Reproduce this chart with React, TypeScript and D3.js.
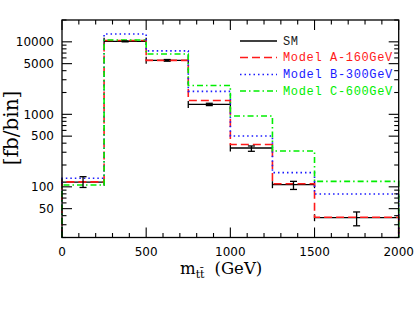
import * as d3 from 'd3';

// bin edges of the m_tt histogram (GeV)
const binEdges = [0, 250, 500, 750, 1000, 1250, 1500, 2000];

// SM with error bars
const smValues = [116, 10150, 5550, 1370, 343, 107, 37.5];
const smErrLow = [98, 10000, 5400, 1320, 309, 92, 29];
const smErrHigh = [138, 10300, 5700, 1420, 366, 119, 45];

// new-physics models
const modelA = [117, 10450, 5550, 1550, 383, 110, 38];
const modelB = [131, 12800, 7500, 2070, 503, 157, 79.5];
const modelC = [106, 10600, 6800, 2500, 950, 312, 119];

const xMajor = [0, 500, 1000, 1500, 2000];
const yLabelled = [50, 100, 500, 1000, 5000, 10000];

const series = [
  { name: 'Model A-160GeV', values: modelA, color: '#ff1a1a', dash: '8,4' },
  { name: 'Model B-300GeV', values: modelB, color: '#1a1aff', dash: '1.5,3' },
  { name: 'Model C-600GeV', values: modelC, color: '#00ee00', dash: '6,3,1.5,3' },
];

const W = 415;
const H = 314;
const left = 62;
const right = 398.7;
const top = 20;
const bottom = 237.5;

export default function App() {
  const x = d3.scaleLinear().domain([0, 2000]).range([left, right]);
  const y = d3.scaleLog().domain([20, 20000]).range([bottom, top]);

  const xMinor = d3.range(0, 2001, 100).filter(v => v % 500 !== 0);
  const yMinor: number[] = [];
  [10, 100, 1000, 10000].forEach(dec => {
    for (let k = 1; k <= 9; k++) {
      const v = dec * k;
      if (v < 20 || v > 20000) continue;
      if (yLabelled.includes(v)) continue;
      yMinor.push(v);
    }
  });

  const line = d3.line<[number, number]>().x(d => x(d[0])).y(d => y(d[1]));

  const stepPoints = (vals: number[]): [number, number][] => {
    const pts: [number, number][] = [[binEdges[0], 20]];
    vals.forEach((v, i) => {
      pts.push([binEdges[i], v]);
      pts.push([binEdges[i + 1], v]);
    });
    pts.push([binEdges[binEdges.length - 1], 20]);
    return pts;
  };

  const legendRows = [
    { name: 'SM', color: '#000', dash: undefined as string | undefined, text: '#222' },
    ...series.map(s => ({ name: s.name, color: s.color, dash: s.dash, text: s.color })),
  ];
  const legendY = [41, 57.5, 74.5, 91];

  return (
    <div style={{ position: 'absolute', left: 0, top: 0 }}>
      <svg width={W} height={H} style={{ display: 'block', background: '#fff' }}>
        {/* SM horizontal bars with end caps */}
        <g stroke="#000" strokeWidth={1.3} fill="none">
          {smValues.map((v, i) => {
            const x0 = x(binEdges[i]);
            const x1 = x(binEdges[i + 1]);
            const yy = y(v);
            return (
              <g key={i}>
                <line x1={x0} x2={x1} y1={yy} y2={yy} />
                <line x1={x0} x2={x0} y1={yy - 3.5} y2={yy + 3.5} />
                <line x1={x1} x2={x1} y1={yy - 3.5} y2={yy + 3.5} />
              </g>
            );
          })}
        </g>

        {/* model histograms */}
        {series.map(s => (
          <path
            key={s.name}
            d={line(stepPoints(s.values)) || ''}
            fill="none"
            stroke={s.color}
            strokeWidth={1.6}
            strokeDasharray={s.dash}
          />
        ))}

        {/* SM error bars */}
        <g stroke="#000" strokeWidth={1.3}>
          {smValues.map((_, i) => {
            const xc = x((binEdges[i] + binEdges[i + 1]) / 2);
            const y0 = y(smErrLow[i]);
            const y1 = y(smErrHigh[i]);
            return (
              <g key={i}>
                <line x1={xc} x2={xc} y1={y0} y2={y1} />
                <line x1={xc - 3.5} x2={xc + 3.5} y1={y0} y2={y0} />
                <line x1={xc - 3.5} x2={xc + 3.5} y1={y1} y2={y1} />
              </g>
            );
          })}
        </g>

        {/* frame */}
        <rect x={left} y={top} width={right - left} height={bottom - top} fill="none" stroke="#000" strokeWidth={1.3} />

        {/* ticks on all four sides */}
        <g stroke="#000" strokeWidth={1.1}>
          {xMajor.map(v => (
            <g key={'xm' + v}>
              <line x1={x(v)} x2={x(v)} y1={bottom} y2={bottom - 10} />
              <line x1={x(v)} x2={x(v)} y1={top} y2={top + 10} />
            </g>
          ))}
          {xMinor.map(v => (
            <g key={'xn' + v}>
              <line x1={x(v)} x2={x(v)} y1={bottom} y2={bottom - 4.5} />
              <line x1={x(v)} x2={x(v)} y1={top} y2={top + 4.5} />
            </g>
          ))}
          {yLabelled.map(v => (
            <g key={'ym' + v}>
              <line x1={left} x2={left + 10} y1={y(v)} y2={y(v)} />
              <line x1={right} x2={right - 10} y1={y(v)} y2={y(v)} />
            </g>
          ))}
          {yMinor.map(v => (
            <g key={'yn' + v}>
              <line x1={left} x2={left + 4.5} y1={y(v)} y2={y(v)} />
              <line x1={right} x2={right - 4.5} y1={y(v)} y2={y(v)} />
            </g>
          ))}
        </g>

        {/* tick labels */}
        <g fontFamily="'DejaVu Sans', sans-serif" fontSize={12} fill="#000">
          {xMajor.map(v => (
            <text key={'xl' + v} x={x(v)} y={256} textAnchor="middle">{v}</text>
          ))}
          {yLabelled.map(v => (
            <text key={'yl' + v} x={54} y={y(v)} dy="0.36em" textAnchor="end">{v}</text>
          ))}
        </g>

        {/* axis titles */}
        <text x={180} y={274} fontFamily="'DejaVu Serif', serif" fontSize={16.5} fill="#000">
          m
          <tspan fontSize={11} dy={3.5}>tt̄</tspan>
          <tspan dy={-3.5} dx={10}>(GeV)</tspan>
        </text>
        <text
          transform="translate(18,128) rotate(-90)"
          textAnchor="middle"
          fontFamily="'DejaVu Serif', serif"
          fontSize={20}
          fill="#000"
        >
          [fb/bin]
        </text>

        {/* legend */}
        {legendRows.map((r, i) => (
          <g key={r.name}>
            <line x1={240} x2={277} y1={legendY[i]} y2={legendY[i]} stroke={r.color} strokeWidth={1.5} strokeDasharray={r.dash} />
            <text
              x={283}
              y={legendY[i] + 3.8}
              fontFamily="'Liberation Mono', monospace"
              fontSize={12}
              letterSpacing={0.65}
              fill={r.text}
            >
              {r.name}
            </text>
          </g>
        ))}
      </svg>
    </div>
  );
}
